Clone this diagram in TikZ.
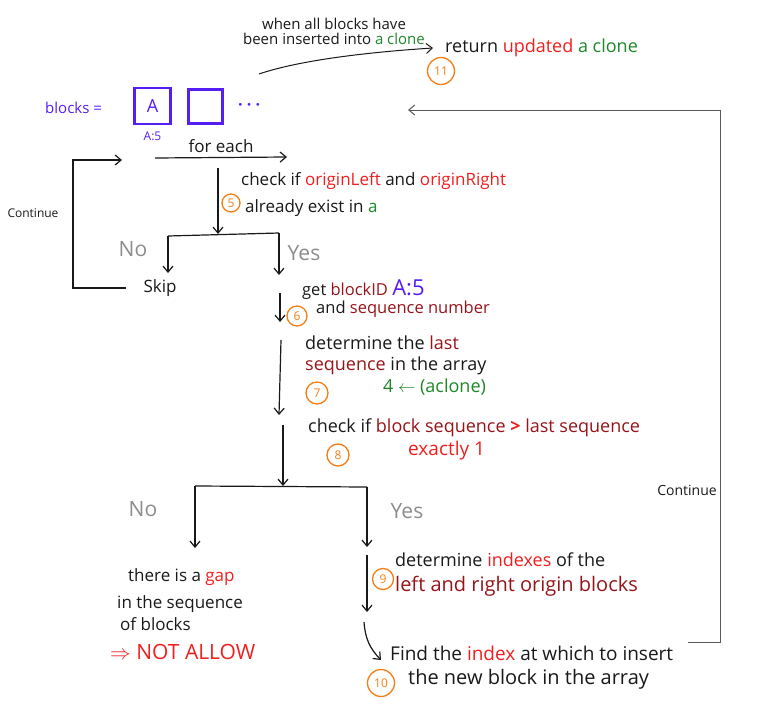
\documentclass[tikz,border=0pt]{standalone}
\usepackage{fontspec}
\setmainfont{Open Sans}
\usetikzlibrary{arrows.meta,positioning}
\definecolor{inkblue}{RGB}{85,30,245}
\definecolor{inkred}{RGB}{240,30,30}
\definecolor{wine}{RGB}{150,20,25}
\definecolor{leafgreen}{RGB}{30,135,40}
\definecolor{tang}{RGB}{245,125,20}
\definecolor{pencil}{RGB}{140,140,140}
\definecolor{ink}{RGB}{25,25,25}
\newcommand{\rd}[1]{\textcolor{inkred}{#1}}
\newcommand{\wn}[1]{\textcolor{wine}{#1}}
\newcommand{\gr}[1]{\textcolor{leafgreen}{#1}}
\newcommand{\hand}[1]{\fontsize{#1}{#1}\selectfont}
\tikzset{
  >={Straight Barb[length=6pt,width=10pt]},
  flow/.style={->,line width=1.2pt,draw=ink},
  wire/.style={line width=1.2pt,draw=ink},
  loop line/.style={->,line width=1pt,draw=black!65},
  note/.style={font=\hand{17},text=ink,anchor=west,align=left,inner sep=0pt},
  answer/.style={font=\hand{21},text=pencil,inner sep=0pt},
  stepnum/.style={circle,draw=tang,line width=1.3pt,text=tang,minimum size=#1,
    inner sep=0pt,font=\hand{12}},
  stepnum/.default=22pt,
  cell/.style={draw=inkblue,line width=2.6pt,minimum size=#1,inner sep=0pt,
    text=inkblue,font=\hand{18}},
  cell/.default=36pt,
}

\begin{document}
\begin{tikzpicture}[x=1pt,y=-1pt]
  \useasboundingbox (0,0) rectangle (764,712);

  % the blocks array
  \node[note,text=inkblue,font=\hand{15}] (blocks) at (45,108) {blocks =};
  \node[cell] (cellA) at (152.5,106) {A};
  \node[cell=34pt] (cellB) at (205.5,106.5) {};
  \node[note,text=inkblue,font=\hand{16}\bfseries] (dots) at (238,107) {· · ·};
  \node[font=\hand{12},text=inkblue,below=3pt of cellA] (cellid) {A:5};

  % return step
  \node[font=\hand{15},text=ink,align=center] (when) at (334,31)
    {when all blocks have\\[0pt]been inserted into \gr{a clone}};
  \node[note,font=\hand{18}] (ret) at (445,48) {return \rd{updated} \gr{a clone}};
  \coordinate (tc0) at (259,74);
  \draw[flow,line width=1pt] (tc0) .. controls (300,60) and (370,52) .. ([xshift=-12pt]ret.west);

  % step numbers
  \foreach \n/\x/\y/\s in {5/231/203/18pt,6/297/316/20pt,7/317/393/22pt,8/338/455/22pt,
      9/383/579/21pt,10/381/683/27pt,11/441/71/27pt}
    \node[stepnum=\s] (s\n) at (\x,\y) {\n};

  % loop over the blocks
  \coordinate (fe0) at (122,160);
  \coordinate (fe1) at (155,158);
  \coordinate (fe2) at (287,157);
  \draw[flow] (fe1) -- node[above=1pt,font=\hand{17},text=ink] (foreach) {for each} (fe2);
  \node[note] (check5) at (241,195)
    {check if \rd{originLeft} and \rd{originRight}\\[10pt]\hspace{4pt}already exist in \gr{a}};
  \coordinate (d5) at (218,168);
  \coordinate (j5) at (218,234);
  \coordinate (j5l) at (168,236);
  \coordinate (j5r) at (279,233);
  \draw[flow] (d5) -- (j5);
  \draw[wire] (j5l) -- (j5r);
  \draw[flow] (j5l) -- ++(0,37);
  \draw[flow] (j5r) -- ++(0,42);
  \node[answer] (no5) at (133,249) {No};
  \node[answer] (yes5) at (304,253) {Yes};
  \node[font=\hand{17},text=ink] (skip) at (160,288) {Skip};
  \coordinate (lp) at (73,160);
  \draw[flow] ([xshift=-14pt]skip.west) -| (lp) -- (fe0);
  \node[font=\hand{12},text=ink] (contL) at (33,213) {Continue};

  % block id and sequence
  \node[note,font=\hand{16.5}] (get6) at (302,300)
    {get \wn{blockID} \smash{\color{inkblue}\hand{22}A:5}\\[2pt]\hspace{14pt}and \wn{sequence number}};
  \coordinate (a6) at (280,293);
  \coordinate (b6) at (280,322);
  \draw[flow] (a6) -- (b6);
  \node[note,font=\hand{18}] (det7) at (305,355)
    {determine the \wn{last}\\[3pt]\wn{sequence} in the array};
  \node[note,text=leafgreen,font=\hand{18}] (aclone) at (383,387) {4 $\leftarrow$ (aclone)};
  \coordinate (a7) at (281,340);
  \coordinate (b7) at (279,415);
  \draw[flow] (a7) -- (b7);
  \node[note,font=\hand{18}] (check8) at (308,428)
    {check if \wn{block sequence} \rd{\textbf{>}} \wn{last sequence}};
  \node[note,text=inkred,font=\hand{19}] (exact) at (408,451) {exactly 1};
  \coordinate (a8) at (283,425);
  \coordinate (j8) at (283,486);
  \coordinate (j8l) at (195,486);
  \coordinate (j8r) at (367,487);
  \draw[flow] (a8) -- (j8);
  \draw[wire] (j8l) -- (j8r);
  \draw[flow] (j8l) -- ++(0,62);
  \draw[flow] (j8r) -- ++(0,60);
  \node[answer] (no8) at (143,509) {No};
  \node[answer] (yes8) at (407,511) {Yes};

  % no branch
  \node[note] (gap) at (117,600)
    {\hspace{11pt}there is a \rd{gap}\\[10pt]in the sequence\\[4pt]\hspace{3pt}of blocks};
  \node[note,text=inkred,font=\hand{21}] (notallow) at (110,652) {$\Rightarrow$ NOT ALLOW};

  % yes branch
  \node[note,font=\hand{18}] (det9) at (395,575)
    {determine \rd{indexes} of the\\[7pt]{\color{wine}\hand{20}left and right origin blocks}};
  \coordinate (a9) at (367,555);
  \coordinate (b9) at (367,612);
  \draw[flow] (a9) -- (b9);
  \coordinate (a10) at (364,622);
  \coordinate (b10) at (381,660);
  \draw[flow] (a10) to[bend right=20] (b10);
  \node[note,font=\hand{19}] (find10) at (390,668)
    {Find the \rd{index} at which to insert\\[5pt]\hspace{18pt}{\hand{20}the new block in the array}};

  % back to the next block
  \coordinate (rl0) at (688,642);
  \coordinate (rl1) at (720,110);
  \coordinate (rl2) at (408,110);
  \draw[loop line] (rl0) -| (rl1) -- (rl2);
  \node[font=\hand{14},text=ink] (contR) at (687,490) {Continue};
\end{tikzpicture}
\end{document}
